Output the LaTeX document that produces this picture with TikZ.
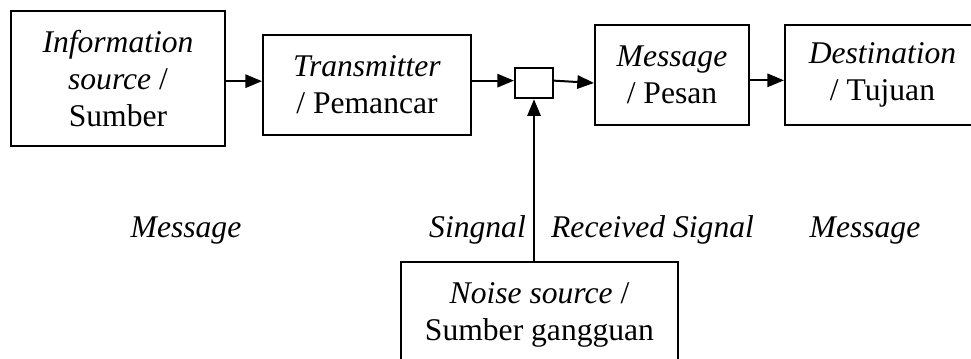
\documentclass[tikz,border=0pt]{standalone}
\usepackage{fontspec}
\setmainfont{Liberation Serif}
\usetikzlibrary{arrows.meta}

\begin{document}
\begin{tikzpicture}[x=0.75pt, y=-0.75pt,
    every node/.style={font=\fontsize{23.7}{27.75}\selectfont},
    box/.style={draw, line width=1.5pt, align=center, inner sep=0pt},
    lbl/.style={anchor=base, inner sep=0pt, font=\fontsize{23.7}{27.75}\selectfont\itshape},
    arr/.style={-{Triangle[length=12.5pt, width=10pt]}, line width=1.5pt}]
    \useasboundingbox (0,0) rectangle (971,358);
    % blocks
    \node[box, minimum width=160.5pt, minimum height=101.25pt] (src) at (118,78.5)
        {\textit{Information}\\ \textit{source} /\\ Sumber};
    \node[box, minimum width=156pt, minimum height=75pt] (tx) at (367,85)
        {\textit{Transmitter}\\ / Pemancar};
    \node[box, minimum width=28.5pt, minimum height=22.5pt] (mix) at (534,83.3) {};
    \node[box, minimum width=115.5pt, minimum height=75pt] (msg) at (672,75)
        {\textit{Message}\\ / Pesan};
    \node[box, minimum width=146.25pt, minimum height=75pt] (dst) at (882.5,75)
        {\textit{Destination}\\ / Tujuan};
    \node[box, minimum width=207.75pt, minimum height=79.5pt] (noise) at (539.5,315)
        {\textit{Noise source} /\\ Sumber gangguan};
    % labels
    \node[lbl] (lmsg) at (186,237) {Message};
    \node[lbl] (lsig) at (477.5,237) {Singnal};
    \node[lbl] (lrcv) at (652.5,237) {Received Signal};
    \node[lbl] (lout) at (865,237) {Message};
    % connectors
    \draw[arr] ([yshift=-2pt]src.east) -- ([yshift=-2pt]src.east -| tx.west);
    \draw[arr] ([yshift=2pt]mix.west -| tx.east) -- ([yshift=2pt]mix.west);
    \draw[arr] ([yshift=2pt]mix.east) -- ([yshift=-6pt]msg.west);
    \draw[arr] ([yshift=-4pt]msg.east) -- ([yshift=-4pt]dst.west);
    \draw[arr] (noise.north -| mix.south) -- (mix.south);
\end{tikzpicture}
\end{document}
